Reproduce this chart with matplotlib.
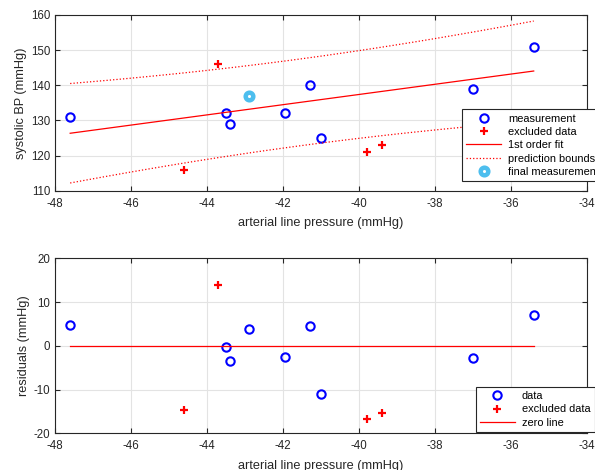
import numpy as np
import matplotlib
matplotlib.use("Agg")
import matplotlib.pyplot as plt

plt.rcParams['font.family'] = ['Liberation Sans', 'DejaVu Sans']
plt.rcParams['axes.unicode_minus'] = False

# measurements (arterial line pressure vs systolic BP)
meas_x = [-47.6, -43.5, -43.4, -41.95, -41.3, -41.0, -37.0, -35.4]
meas_y = [131, 132, 129, 132, 140, 125, 139, 151]
# last measurement, shown separately but part of the fit
final_x = -42.9
final_y = 137
# points left out of the fit
excl_x = [-43.7, -44.6, -39.8, -39.4]
excl_y = [146, 116, 121, 123]

# 1st order fit over all used points
fx = np.array(meas_x + [final_x])
fy = np.array(meas_y + [final_y])
p = np.polyfit(fx, fy, 1)
n = len(fx)
res = fy - np.polyval(p, fx)
s = np.sqrt(np.sum(res**2) / (n - 2))
sxx = np.sum((fx - fx.mean())**2)
crit = 1.96

xx = np.linspace(fx.min(), fx.max(), 100)
yfit = np.polyval(p, xx)
hw = crit * s * np.sqrt(1 + 1/n + (xx - fx.mean())**2 / sxx)

res_meas = np.array(meas_y) - np.polyval(p, meas_x)
res_final = final_y - np.polyval(p, final_x)
res_excl = np.array(excl_y) - np.polyval(p, excl_x)

dark = '#262626'
grid_c = '#e3e3e3'


def style(ax):
    ax.grid(True, color=grid_c, linewidth=0.8)
    ax.set_axisbelow(True)
    for sp in ax.spines.values():
        sp.set_color(dark)
        sp.set_linewidth(0.8)
    ax.tick_params(direction='in', top=True, right=True, length=3.5,
                   width=0.8, color=dark, labelcolor=dark, labelsize=8.3)
    ax.tick_params(axis='x', pad=5)
    ax.set_xlim(-48, -34)
    ax.set_xticks(np.arange(-48, -33, 2))


fig = plt.figure(figsize=(5.95, 4.7), dpi=100)

# --- top: fit ---
ax1 = fig.add_axes([0.0924, 0.5943, 0.894, 0.3738])
style(ax1)
ax1.plot(meas_x, meas_y, 'o', color='blue', mfc='none', ms=6, mew=1.5,
         label='measurement')
ax1.plot(excl_x, excl_y, '+', color='red', ms=6, mew=1.6, label='excluded data')
ax1.plot(xx, yfit, '-', color='red', lw=0.9, label='1st order fit')
ax1.plot(xx, yfit + hw, ':', color='red', lw=0.9, label='prediction bounds')
ax1.plot(xx, yfit - hw, ':', color='red', lw=0.9)
ax1.plot(final_x, final_y, 'o', color='#4dbeee', mfc='none', ms=5.5, mew=3.2,
         label='final measurement')
ax1.set_ylim(110, 160)
ax1.set_yticks(np.arange(110, 161, 10))
ax1.set_xlabel('arterial line pressure (mmHg)', fontsize=9.2, color=dark, labelpad=5.5)
ax1.set_ylabel('systolic BP (mmHg)', fontsize=9.2, color=dark, labelpad=2.5)
leg1 = ax1.legend(loc='upper left', bbox_to_anchor=(461.7/595, 1 - 109.3/470),
                  bbox_transform=fig.transFigure, fontsize=7.9, frameon=True,
                  fancybox=False, edgecolor=dark, framealpha=1,
                  handlelength=3.2, labelspacing=0.3, borderpad=0.4,
                  handletextpad=0.6, borderaxespad=0)
leg1.get_frame().set_linewidth(0.8)

# --- bottom: residuals ---
ax2 = fig.add_axes([0.0924, 0.0781, 0.894, 0.3723])
style(ax2)
ax2.plot(list(meas_x) + [final_x], list(res_meas) + [res_final], 'o', color='blue',
         mfc='none', ms=6, mew=1.5, label='data')
ax2.plot(excl_x, res_excl, '+', color='red', ms=6, mew=1.6, label='excluded data')
ax2.plot([fx.min(), fx.max()], [0, 0], '-', color='red', lw=0.9, label='zero line')
ax2.set_ylim(-20, 20)
ax2.set_yticks(np.arange(-20, 21, 10))
ax2.set_xlabel('arterial line pressure (mmHg)', fontsize=9.2, color=dark, labelpad=5.5)
ax2.set_ylabel('residuals (mmHg)', fontsize=9.2, color=dark, labelpad=2.5)
leg2 = ax2.legend(loc='upper left', bbox_to_anchor=(475.5/595, 1 - 386.7/470),
                  bbox_transform=fig.transFigure, fontsize=7.9, frameon=True,
                  fancybox=False, edgecolor=dark, framealpha=1,
                  handlelength=3.2, labelspacing=0.3, borderpad=0.4,
                  handletextpad=0.6, borderaxespad=0)
leg2.get_frame().set_linewidth(0.8)

fig.savefig('out.png', dpi=100)
